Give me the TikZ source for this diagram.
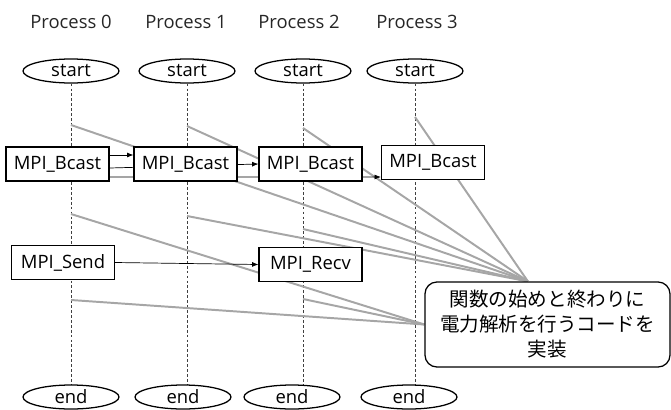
\documentclass[tikz,border=0pt]{standalone}
\usepackage{fontspec}
\setmainfont{Open Sans}
\newfontfamily\jpfont{Noto Sans CJK JP}
\usetikzlibrary{arrows.meta,shapes.geometric,backgrounds}
\definecolor{chook}{HTML}{A6A6A6}
\definecolor{ctextdark}{HTML}{262626}
\definecolor{cdash}{HTML}{404040}

\begin{document}
\begin{tikzpicture}[
    x=0.025cm, y=-0.025cm,
    >={Latex[length=4.5pt,width=3.5pt]},
    font=\fontsize{13.1pt}{15pt}\selectfont,
    proclabel/.style={text=ctextdark},
    terminal/.style={
        ellipse, draw, fill=white, line width=0.9pt,
        minimum width=2.4cm, minimum height=0.6cm, inner sep=0pt,
    },
    callbox/.style={
        draw, fill=white, line width=0.8pt,
        minimum width=2.575cm, minimum height=0.85cm, inner sep=0pt,
    },
    msg/.style={->,line width=0.5pt},
    lifeline/.style={cdash,line width=0.5pt,dash pattern=on 2pt off 1.5pt},
    hook/.style={chook,line width=1.4pt},
]
\useasboundingbox (0,0) rectangle (671,409);

% ============================================================
% PROCESS HEADERS
% ============================================================
\node[proclabel] (h0) at (71,22) {Process 0};
\node[proclabel] (h1) at (186,22) {Process 1};
\node[proclabel] (h2) at (299,22) {Process 2};
\node[proclabel] (h3) at (417,22) {Process 3};

% ============================================================
% START / END
% ============================================================
\node[terminal] (s0) at (71,71) {start};
\node[terminal] (s1) at (187,71) {start};
\node[terminal] (s2) at (303,71) {start};
\node[terminal] (s3) at (415,71) {start};

\node[terminal] (e0) at (71,397) {end};
\node[terminal] (e1) at (183,397) {end};
\node[terminal] (e2) at (292,397) {end};
\node[terminal] (e3) at (409,397) {end};

% ============================================================
% MPI CALLS
% ============================================================
\node[callbox] (b0) at (57.5,164) {MPI\_Bcast};
\node[callbox] (b1) at (185.5,164) {MPI\_Bcast};
\node[callbox] (b2) at (310.5,164) {MPI\_Bcast};
\node[callbox] (b3) at (433,162.5) {MPI\_Bcast};

\node[callbox] (send) at (63,262.5) {MPI\_Send};
\node[callbox] (recv) at (310.5,264.5) {MPI\_Recv};

\draw[msg] (send.east) -- (recv.west);

% ============================================================
% NOTE
% ============================================================
\node[draw, fill=white, line width=0.9pt, rounded corners=0.3cm,
    minimum width=6.125cm, minimum height=2.125cm, align=center,
    font=\jpfont\fontsize{13.9pt}{17.8pt}\selectfont] (note) at (547.5,324.5)
    {関数の始めと終わりに\\電力解析を行うコードを\\実装};

\coordinate (hubtop) at ([xshift=-0.49cm]note.north);
\coordinate (hubleft) at (note.west);

\begin{scope}[on background layer]
    % lifelines
    \foreach \i in {0,...,3}
        \draw[lifeline] (s\i.south) -- (s\i.south |- e\i.north);

    % instrumentation hooks
    \foreach \p/\y in {0/125, 1/126, 2/128, 3/117, 1/216, 2/229}
        \draw[hook] (s\p.south |- 0,\y) -- (hubtop);
    \foreach \p/\y in {0/214, 0/300, 2/299}
        \draw[hook] (s\p.south |- 0,\y) -- (hubleft);

    % broadcast messages
    \draw[msg] ([yshift=0.225cm]b0.east) -- ([yshift=0.225cm]b1.west);
    \draw[msg] ([yshift=-0.1cm]b0.east) -- (b2.west);
    \draw[msg] ([yshift=-0.325cm]b0.east) -- ([yshift=-0.3625cm]b3.west);
\end{scope}

\end{tikzpicture}
\end{document}
